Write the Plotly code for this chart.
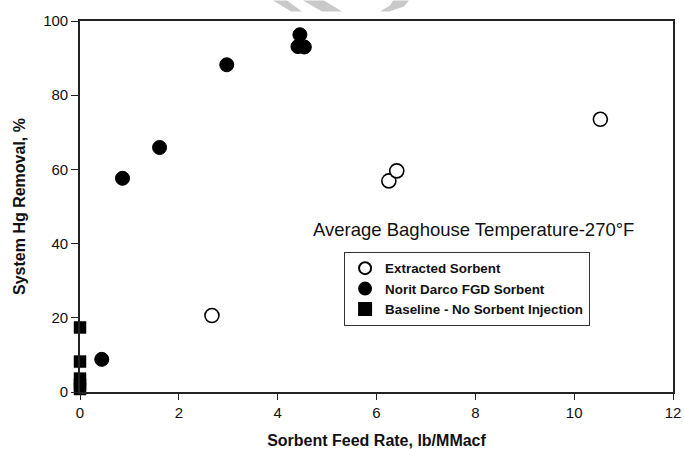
import plotly.graph_objects as go

# ---- data ----
extracted_x = [2.67, 6.25, 6.41, 10.53]
extracted_y = [20.6, 56.9, 59.6, 73.5]

norit_x = [0.44, 0.86, 1.61, 2.97, 4.41, 4.45, 4.54]
norit_y = [8.8, 57.6, 65.9, 88.2, 93.1, 96.3, 93.0]

baseline_x = [0, 0, 0, 0, 0]
baseline_y = [17.4, 8.2, 3.6, 2.0, 0.8]

x_ticks = [0, 2, 4, 6, 8, 10, 12]
y_ticks = [0, 20, 40, 60, 80, 100]

FONT = "Liberation Sans, Arial, Helvetica, sans-serif"
W, H = 684, 449
L, R, T, B = 80, 11, 20.5, 56.5

fig = go.Figure()
fig.add_trace(go.Scatter(
    x=extracted_x, y=extracted_y, mode="markers", name="Extracted Sorbent",
    marker=dict(symbol="circle", size=14, color="white", line=dict(color="black", width=1.6)),
    cliponaxis=False))
fig.add_trace(go.Scatter(
    x=norit_x, y=norit_y, mode="markers", name="Norit Darco FGD Sorbent",
    marker=dict(symbol="circle", size=14, color="black", line=dict(color="black", width=1)),
    cliponaxis=False))
fig.add_trace(go.Scatter(
    x=baseline_x, y=baseline_y, mode="markers", name="Baseline - No Sorbent Injection",
    marker=dict(symbol="square", size=12, color="black", line=dict(color="black", width=0.5)),
    cliponaxis=False))

pw, ph = W - L - R, H - T - B
def px2paper(px, py):
    return (px - L) / pw, (H - B - py) / ph

# decorative light-grey watermark fragments at the top
def poly(pts):
    s = ""
    for i, (a, b) in enumerate(pts):
        u, v = px2paper(a, b)
        s += ("M" if i == 0 else "L") + f"{u:.4f},{v:.4f} "
    return s + "Z"

shapes = []
for pts in [
    [(273, 0), (287, 0), (302, 11), (291, 11)],
    [(303, 0), (324, 0), (342, 11), (322, 11)],
    [(393, 0), (409, 0), (404, 6), (389, 11), (380, 11), (390, 5)],
]:
    shapes.append(dict(type="path", xref="paper", yref="paper", path=poly(pts),
                       fillcolor="#c9c9c9", line=dict(width=0), layer="above"))

axis_common = dict(
    showgrid=False, zeroline=False, showline=True, linecolor="#222", linewidth=1.6,
    mirror=True, ticks="outside", tickcolor="#222", tickwidth=1.4, automargin=False,
    tickfont=dict(family=FONT, size=15, color="#111"),
)

fig.update_layout(
    width=W, height=H,
    margin=dict(l=L, r=R, t=T, b=B),
    plot_bgcolor="white", paper_bgcolor="white",
    font=dict(family=FONT, color="#111"),
    xaxis=dict(range=[0, 12], tickvals=x_ticks, ticklen=6, **axis_common,
               title=dict(text="<b>Sorbent Feed Rate, lb/MMacf</b>",
                          font=dict(family=FONT, size=16, color="#111"), standoff=21)),
    yaxis=dict(range=[0, 100], tickvals=y_ticks, ticklen=7, **axis_common,
               title=dict(text="<b>System Hg Removal, %</b>",
                          font=dict(family=FONT, size=16, color="#111"), standoff=14)),
    legend=dict(x=0.445, y=0.378, xanchor="left", yanchor="top",
                bgcolor="white", bordercolor="#333", borderwidth=1.2,
                font=dict(family=FONT, size=13.4, color="#111", weight="bold"),
                tracegroupgap=0, itemsizing="constant"),
    shapes=shapes,
    annotations=[dict(
        text="Average Baghouse Temperature-270°F", xref="paper", yref="paper",
        x=0.664, y=0.437, xanchor="center", yanchor="middle", showarrow=False,
        font=dict(family=FONT, size=18.5, color="#111"))],
)

fig.write_html("out.html", config={"displayModeBar": False},
               post_script="document.body.style.margin='0';")
